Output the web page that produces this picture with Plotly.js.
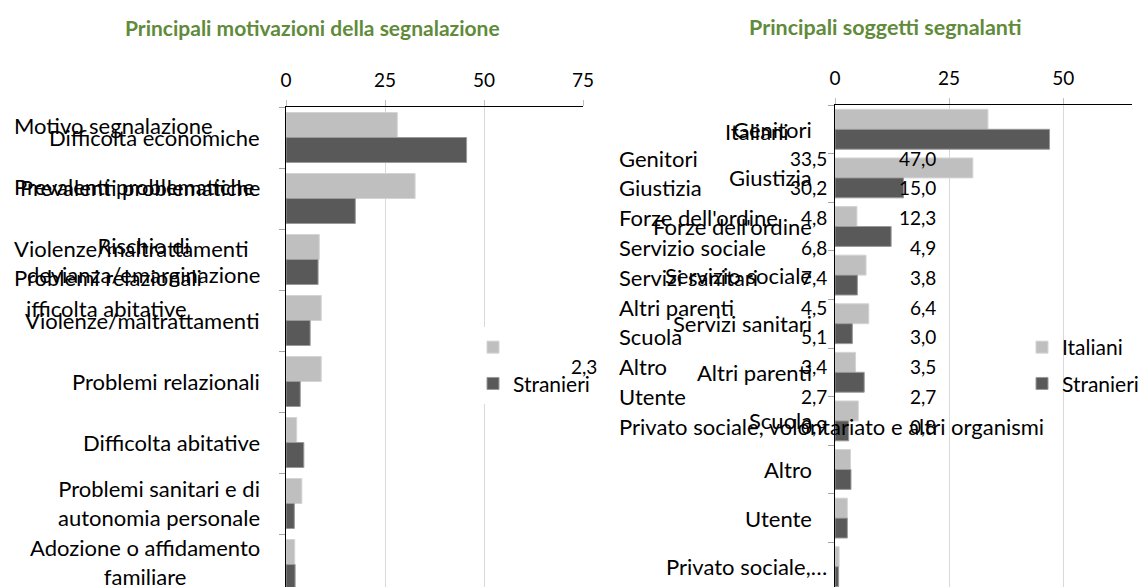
<!DOCTYPE html>
<html>
<head>
<meta charset="utf-8">
<script src="https://cdn.plot.ly/plotly-3.0.1.min.js"></script>
<style>html,body{margin:0;padding:0;background:#fff;}#chart{width:1138px;height:587px;}</style>
</head>
<body>
<div id="chart"></div>
<script>
// ---------- DATA ----------
const leftCategories = ["Difficolta economiche", "Prevalenti problematiche", "Rischio di devianza/emarginazione", "Violenze/maltrattamenti", "Problemi relazionali", "Difficolta abitative", "Problemi sanitari e di autonomia personale", "Adozione o affidamento familiare"];
const leftLabels = ["Difficolta economiche", "Prevalenti problematiche", "Rischio di<br>devianza/emarginazione", "Violenze/maltrattamenti", "Problemi relazionali", "Difficolta abitative", "Problemi sanitari e di<br>autonomia personale", "Adozione o affidamento<br>familiare"];
const leftItaliani = [28.1, 32.6, 8.4, 8.9, 8.9, 2.7, 4.0, 2.2];
const leftStranieri = [45.6, 17.5, 8.1, 6.1, 3.6, 4.5, 2.1, 2.3];
const leftTicks = [0, 25, 50, 75];

const rightCategories = ["Genitori", "Giustizia", "Forze dell'ordine", "Servizio sociale", "Servizi sanitari", "Altri parenti", "Scuola", "Altro", "Utente", "Privato sociale, volontariato e altri organismi"];
const rightLabels = ["Genitori", "Giustizia", "Forze dell'ordine", "Servizio sociale", "Servizi sanitari", "Altri parenti", "Scuola", "Altro", "Utente", "Privato sociale,…"];
const rightItaliani = [33.5, 30.2, 4.8, 6.8, 7.4, 4.5, 5.1, 3.4, 2.7, 0.9];
const rightStranieri = [47.0, 15.0, 12.3, 4.9, 3.8, 6.4, 3.0, 3.5, 2.7, 0.8];
const rightTicks = [0, 25, 50];

const seriesNames = ["Italiani", "Stranieri"];
const titleLeft = "Principali motivazioni della segnalazione";
const titleRight = "Principali soggetti segnalanti";
const leftTableHeader = "Motivo segnalazione";
const leftTableRows = ["Prevalenti problematiche", "Violenze/maltrattamenti", "Problemi relazionali", "ifficolta abitative"];
const leftTableValue = "2,3";

// ---------- STYLE / LAYOUT ----------
const W = 1138, H = 587;
const px = x => x / W;
const py = y => 1 - y / H;
const FONT = "Lato, 'Open Sans', sans-serif";
const FS = 22;      // letters
const FSN = 19;     // digits
const FSL = 21;     // legend
const LIGHT = "#BFBFBF", DARK = "#595959";
const GREEN = "#5F8B3A";
const fmt = v => v.toFixed(1).replace(".", ",");
const txt = (size) => ({family: FONT, size: size, color: "#000"});

const traces = [
  {type: "bar", orientation: "h", y: leftCategories, x: leftItaliani, name: " ",
   xaxis: "x", yaxis: "y", legend: "legend", legendgroup: "a",
   marker: {color: LIGHT, line: {color: "#d4d4d4", width: 1}}, hoverinfo: "x+y"},
  {type: "bar", orientation: "h", y: leftCategories, x: leftStranieri, name: seriesNames[1],
   xaxis: "x", yaxis: "y", legend: "legend", legendgroup: "b",
   marker: {color: DARK, line: {color: "#9a9a9a", width: 1}}, hoverinfo: "x+y"},
  {type: "bar", orientation: "h", y: rightCategories, x: rightItaliani, name: seriesNames[0],
   xaxis: "x2", yaxis: "y2", legend: "legend2", legendgroup: "c",
   marker: {color: LIGHT, line: {color: "#d4d4d4", width: 1}}, hoverinfo: "x+y"},
  {type: "bar", orientation: "h", y: rightCategories, x: rightStranieri, name: seriesNames[1],
   xaxis: "x2", yaxis: "y2", legend: "legend2", legendgroup: "d",
   marker: {color: DARK, line: {color: "#9a9a9a", width: 1}}, hoverinfo: "x+y"}
];

const xCommon = {
  side: "top", showgrid: true, gridcolor: "#d9d9d9", gridwidth: 1, zeroline: false,
  showline: true, linecolor: "#000", linewidth: 1,
  ticks: "outside", ticklen: 6, tickcolor: "#bfbfbf", ticklabelstandoff: 5,
  tickfont: txt(FSN), tickmode: "array", fixedrange: true
};
const yCommon = {
  type: "category", showgrid: false, zeroline: false, showline: true, linecolor: "#000", linewidth: 1,
  ticks: "outside", tickson: "boundaries", ticklen: 6, tickcolor: "#a6a6a6",
  showticklabels: false, fixedrange: true
};

const annotations = [];
// titles
annotations.push({xref: "paper", yref: "paper", x: px(312), y: py(27), xanchor: "center", yanchor: "middle",
  text: titleLeft, showarrow: false, font: {family: FONT, size: 21, color: GREEN, weight: 700}});
annotations.push({xref: "paper", yref: "paper", x: px(885), y: py(27), xanchor: "center", yanchor: "middle",
  text: titleRight, showarrow: false, font: {family: FONT, size: 21.5, color: GREEN, weight: 700}});

// stray table text behind left chart
const leftTablePos = [[12, 186], [12, 248], [12, 277], [24, 308]];
annotations.push({xref: "paper", yref: "paper", x: px(12), y: py(126), xanchor: "left", yanchor: "middle",
  text: leftTableHeader, showarrow: false, font: txt(FS)});
leftTableRows.forEach((t, i) => annotations.push({xref: "paper", yref: "paper", x: px(leftTablePos[i][0]), y: py(leftTablePos[i][1]),
  xanchor: "left", yanchor: "middle", text: t, showarrow: false, font: txt(FS)}));
annotations.push({xref: "paper", yref: "paper", x: px(599), y: py(366), xanchor: "right", yanchor: "middle",
  text: leftTableValue, showarrow: false, font: txt(FSN)});

// stray table text behind right chart
annotations.push({xref: "paper", yref: "paper", x: px(757), y: py(131), xanchor: "center", yanchor: "middle",
  text: seriesNames[0], showarrow: false, font: txt(FS)});
rightCategories.forEach((c, i) => {
  const yy = 158 + i * 29.8;
  annotations.push({xref: "paper", yref: "paper", x: px(617), y: py(yy), xanchor: "left", yanchor: "middle",
    text: c, showarrow: false, font: txt(FS)});
  annotations.push({xref: "paper", yref: "paper", x: px(829), y: py(yy), xanchor: "right", yanchor: "middle",
    text: fmt(rightItaliani[i]), showarrow: false, font: txt(FSN)});
  annotations.push({xref: "paper", yref: "paper", x: px(938), y: py(yy), xanchor: "right", yanchor: "middle",
    text: fmt(rightStranieri[i]), showarrow: false, font: txt(FSN)});
});

// category labels (centered multi-line, right anchored, like the source)
const leftShift = [0, 11, 0, 0, 0, 0, 1, 3];
leftCategories.forEach((c, i) => annotations.push({xref: "paper", yref: "y", x: px(262), y: c, xanchor: "right", yanchor: "middle",
  yshift: leftShift[i], align: "center", text: leftLabels[i], showarrow: false, font: txt(FS)}));
rightCategories.forEach((c, i) => annotations.push({xref: "paper", yref: "y2", x: px(814), y: c, xanchor: "right", yanchor: "middle",
  xshift: i === rightCategories.length - 1 ? 15 : 0, align: "center", text: rightLabels[i], showarrow: false, font: txt(FS)}));

const layout = {
  width: W, height: H,
  margin: {l: 0, r: 0, t: 0, b: 0, pad: 0, autoexpand: false},
  paper_bgcolor: "#fff", plot_bgcolor: "rgba(0,0,0,0)",
  font: txt(FS),
  barmode: "group", bargap: 0.18, bargroupgap: 0,
  xaxis: Object.assign({}, xCommon, {domain: [px(286), px(583)], range: [0, 75], tickvals: leftTicks, ticktext: leftTicks.map(String), anchor: "y"}),
  yaxis: Object.assign({}, yCommon, {domain: [0, py(107)], range: [-0.5 + 480 / 61, -0.5], anchor: "x"}),
  xaxis2: Object.assign({}, xCommon, {domain: [px(835), px(1131.7)], range: [0, 65], tickvals: rightTicks, ticktext: rightTicks.map(String), anchor: "y2"}),
  yaxis2: Object.assign({}, yCommon, {domain: [0, py(105)], range: [-0.5 + 482 / 48.6, -0.5], anchor: "x2"}),
  legend: {x: px(473), xanchor: "left", y: py(327), yanchor: "top", bgcolor: "#fff", borderwidth: 0,
    traceorder: "grouped", tracegroupgap: 6, font: txt(FSL)},
  legend2: {x: px(1022), xanchor: "left", y: py(327), yanchor: "top", bgcolor: "rgba(0,0,0,0)", borderwidth: 0,
    traceorder: "grouped", tracegroupgap: 6, font: txt(FSL)},
  annotations: annotations,
  showlegend: true
};

Plotly.newPlot("chart", traces, layout, {displayModeBar: false, staticPlot: true});
</script>
</body>
</html>
